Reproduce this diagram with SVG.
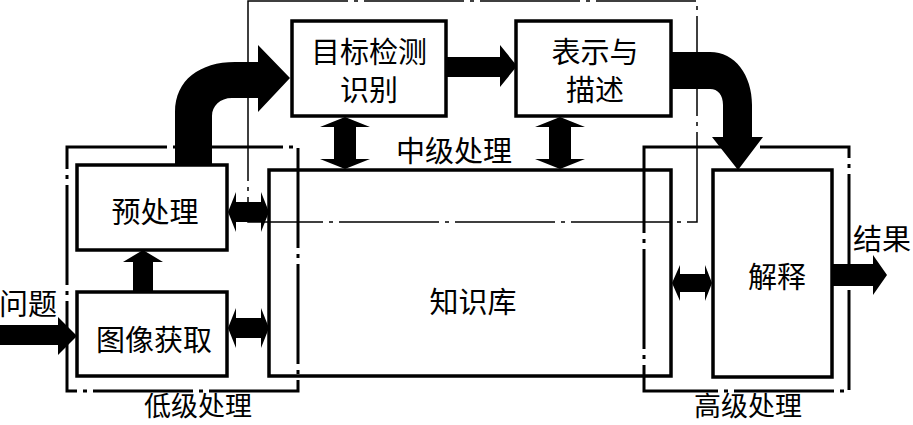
<svg xmlns="http://www.w3.org/2000/svg" width="913" height="425" viewBox="0 0 913 425">
<style>
.box{fill:none;stroke:#000;stroke-width:3.5}
.grp{fill:none;stroke:#000;stroke-dasharray:100 6 4 6}
.thick{stroke-width:3}
.thin{stroke-width:1.5}
.arr{fill:#000;stroke:none}
text{font-family:"Noto Sans CJK SC","Liberation Serif",serif;font-size:29px;fill:#000;text-anchor:middle;dominant-baseline:central}
.bl{font-size:27px}
</style>
<rect width="913" height="425" fill="#fff"/>
<g id="groups">
<rect class="grp thick" x="67" y="147" width="231" height="244"/>
<rect class="grp thin" x="248" y="1" width="449" height="221"/>
<rect class="grp thick" x="644" y="147" width="205" height="244"/>
<text class="bl" x="198" y="404">低级处理</text>
<text x="454" y="149">中级处理</text>
<text class="bl" x="748" y="404">高级处理</text>
</g>
<g id="detect">
<rect class="box" x="292" y="21" width="154" height="95"/>
<text x="369" y="50">目标检测</text>
<text x="369" y="88">识别</text>
</g>
<g id="describe">
<rect class="box" x="516" y="21" width="155" height="95"/>
<text x="595" y="50">表示与</text>
<text x="595" y="88">描述</text>
</g>
<g id="preprocess">
<rect class="box" x="77" y="165" width="150" height="85"/>
<text x="155" y="210">预处理</text>
</g>
<g id="acquire">
<rect class="box" x="77" y="292" width="150" height="84"/>
<text x="154" y="338">图像获取</text>
</g>
<g id="kb">
<rect class="box" x="269" y="170" width="402" height="206"/>
<text x="473" y="300">知识库</text>
</g>
<g id="interpret">
<rect class="box" x="713" y="170" width="119" height="207"/>
<text x="777" y="275">解释</text>
</g>
<g id="labels">
<text x="28" y="302">问题</text>
<text x="882" y="237">结果</text>
</g>
<g id="connectors">
<path class="arr" d="M175,165 L175,112 C175,80 200,62 235,62 L258,62 L258,45 L290,78 L258,112 L258,98 L232,98 C220,98 212,106 212,116 L212,165 Z"/>
<path class="arr" d="M447,57 L500,57 L500,45 L517,66 L500,87 L500,77 L447,77 Z"/>
<path class="arr" d="M671,52 L710,52 C735,52 752,75 752,105 L752,137 L763,137 L738,170 L712,137 L723,137 L723,105 C723,95 718,89 710,89 L671,89 Z"/>
<path class="arr" d="M345,117 L370,127 L356,127 L356,159 L370,159 L345,169 L320,159 L334,159 L334,127 L320,127 Z"/>
<path class="arr" d="M560,117 L585,127 L571,127 L571,159 L585,159 L560,169 L535,159 L549,159 L549,127 L535,127 Z"/>
<path class="arr" d="M228,212 L236,192 L236,202 L261,202 L261,192 L269,212 L261,232 L261,222 L236,222 L236,232 Z"/>
<path class="arr" d="M228,328 L236,308 L236,318 L261,318 L261,308 L269,328 L261,348 L261,338 L236,338 L236,348 Z"/>
<path class="arr" d="M672,283 L680,265 L680,274 L705,274 L705,265 L712,283 L705,301 L705,292 L680,292 L680,301 Z"/>
<path class="arr" d="M133,292 L133,262 L123,262 L143,250 L163,262 L153,262 L153,292 Z"/>
<path class="arr" d="M0,325 L58,325 L58,317 L77,336 L58,355 L58,345 L0,345 Z"/>
<path class="arr" d="M833,264 L873,264 L873,255 L887,275 L873,295 L873,286 L833,286 Z"/>
</g>
</svg>
